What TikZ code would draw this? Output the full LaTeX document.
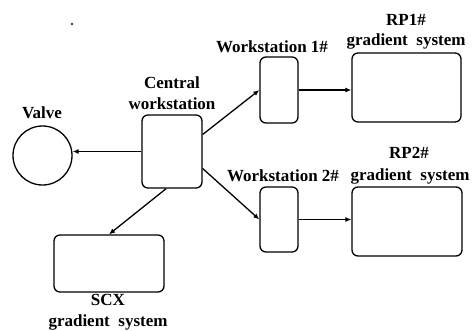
\documentclass[tikz,border=0pt]{standalone}
\usepackage{fontspec}
\setmainfont{Liberation Serif}
\usepackage{tikz}
\usetikzlibrary{arrows.meta,positioning}

\begin{document}
\begin{tikzpicture}[x=1pt, y=-1pt, line width=1.3pt,
    font=\fontsize{17}{20.5}\selectfont\bfseries,
    unit/.style={draw, rounded corners=6pt, inner sep=0pt},
    lbl/.style={inner sep=0pt, align=center},
    link/.style={-{Latex[length=6pt,width=5pt]}}]
  \useasboundingbox (0,0) rectangle (474,330);

  % Units of the system
  \node[unit, minimum width=60pt, minimum height=73pt] (central) at (172,151.5) {};
  \node[draw, circle, minimum size=59pt, inner sep=0pt] (valve) at (42.5,155.5) {};
  \node[unit, minimum width=38pt, minimum height=66pt] (ws1) at (279,90) {};
  \node[unit, minimum width=109pt, minimum height=69pt] (rp1) at (406.5,87.5) {};
  \node[unit, minimum width=38pt, minimum height=65pt] (ws2) at (279,219.5) {};
  \node[unit, minimum width=110pt, minimum height=69pt] (rp2) at (407,221.5) {};
  \node[unit, minimum width=110pt, minimum height=57pt] (scx) at (109,263.5) {};

  % Labels
  \node[lbl] (valvelbl) at (42,113) {Valve};
  \node[lbl] (centrallbl) at (172,93) {Central\\workstation};
  \node[lbl] (ws1lbl) at (272,47) {Workstation 1\#};
  \node[lbl] (rp1lbl) at (406,32) {RP1\#\\gradient\ \ system};
  \node[lbl] (rp2lbl) at (409,153) {RP2\#};
  \node[lbl] (ws2lbl) at (283,176) {Workstation 2\#};
  \node[lbl] (rp2lbl2) at (410,176) {gradient\ \ system};
  \node[lbl] (scxlbl) at (108,312) {SCX\\gradient\ \ system};

  % Stray mark
  \fill (72,24) circle (1.2pt);

  % Connections
  \draw[link] (central.west) -- (valve.east |- central.west);
  \draw[link] (central.29) -- (ws1.west);
  \draw[link] (central.-29) -- (ws2.west);
  \draw[link] (central.-99) -- (scx.north);
  \draw[link] (ws1.east) -- (rp1.west |- ws1.east);
  \draw[link] (ws2.east) -- (rp2.west |- ws2.east);
\end{tikzpicture}
\end{document}
